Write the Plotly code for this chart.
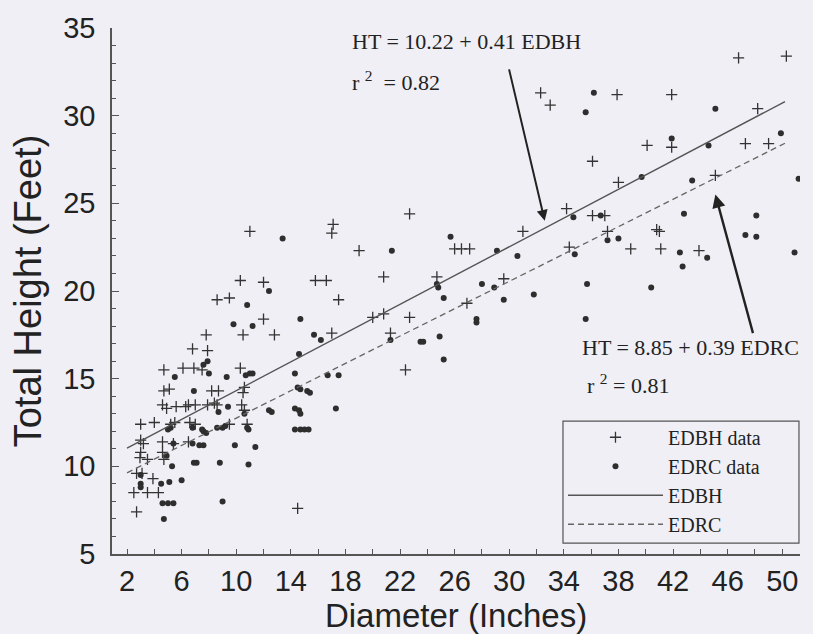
import plotly.graph_objects as go

# EDBH data (+)
edbh_x = [46.8, 50.3, 32.3, 33.0, 37.9, 41.9, 48.2, 47.3, 49.0, 40.1, 41.9, 36.1, 38.0, 45.1, 34.2, 36.1, 37.0,
          37.2, 40.8, 41.0, 34.4, 38.9, 41.1, 43.9,
          22.7, 17.1, 19.0, 26.0, 26.5, 27.1, 31.0, 20.8, 24.7, 29.6, 17.5, 26.9, 20.8, 20.0, 22.7, 17.0, 21.3, 22.4,
          11.0, 17.0, 10.3, 12.0, 15.8, 16.6, 8.6, 9.5, 12.0, 10.5, 12.8, 7.8, 6.8, 7.9, 4.7, 6.1, 6.9, 7.5, 10.3,
          4.7, 5.1, 8.2, 8.7, 10.6, 10.5,
          4.6, 4.9, 5.6, 6.3, 6.5, 7.0, 7.9, 8.4, 8.6, 10.4, 10.6,
          3.0, 4.0, 5.2, 5.5, 6.6, 7.0, 9.5, 10.8,
          3.0, 3.2, 4.6, 5.4, 6.5,
          3.0, 2.95, 3.5, 4.6, 4.7,
          2.7, 3.1, 3.9, 2.5, 3.5, 4.3, 2.7, 14.5]
edbh_y = [33.3, 33.4, 31.3, 30.6, 31.2, 31.2, 30.4, 28.4, 28.4, 28.3, 28.2, 27.4, 26.2, 26.6, 24.7, 24.3, 24.3,
          23.4, 23.5, 23.4, 22.5, 22.4, 22.4, 22.3,
          24.4, 23.8, 22.3, 22.4, 22.4, 22.4, 23.4, 20.8, 20.8, 20.7, 19.5, 19.3, 18.7, 18.5, 18.5, 17.6, 17.6, 15.5,
          23.4, 23.3, 20.6, 20.5, 20.6, 20.6, 19.5, 19.6, 18.4, 17.5, 17.5, 17.5, 16.7, 16.6, 15.5, 15.6, 15.6, 15.5, 15.6,
          14.3, 14.4, 14.3, 14.3, 14.5, 14.2,
          13.5, 13.3, 13.4, 13.4, 13.5, 13.5, 13.5, 13.6, 13.5, 13.5, 13.2,
          12.4, 12.5, 12.4, 12.5, 12.5, 12.4, 12.4, 12.4,
          11.5, 11.3, 11.4, 11.3, 11.4,
          10.8, 10.5, 10.4, 10.8, 10.4,
          9.6, 9.6, 9.3, 8.5, 8.5, 8.5, 7.4, 7.6]

# EDRC data (dots)
edrc_x = [36.2, 35.6, 45.1, 49.9, 44.6, 41.9, 39.7, 43.4, 51.2, 34.7, 36.7, 42.8, 48.1, 37.2, 38.0, 34.8, 42.5,
          42.7, 44.5, 47.3, 48.1, 50.9, 35.7, 40.4, 35.6,
          25.7, 21.4, 29.1, 30.6, 24.7, 24.8, 28.0, 28.9, 31.8, 25.2, 29.6, 27.6, 27.6, 21.3, 23.5, 23.7, 24.9, 25.2,
          17.5, 17.3,
          13.4, 12.4, 10.8, 9.8, 11.2, 14.7, 15.7, 16.2, 14.6, 7.9, 7.6, 5.5, 8.0, 9.3, 10.7, 11.0, 11.2, 14.3, 16.7,
          6.9, 14.5, 14.7, 15.2, 15.4,
          8.7, 9.4, 10.6, 12.4, 12.6, 14.3, 14.6, 14.7,
          5.2, 5.0, 6.8, 7.5, 7.6, 7.8, 8.6, 9.0, 9.2, 10.8, 10.9, 14.3, 14.7, 15.0, 15.3,
          5.4, 6.8, 7.3, 7.6, 9.9, 11.4,
          4.9, 5.3, 6.9, 7.1, 8.8, 10.9,
          3.0, 3.0, 3.0, 4.5, 5.1, 6.0,
          4.6, 5.0, 5.4, 9.0, 4.7]
edrc_y = [31.3, 30.2, 30.4, 29.0, 28.3, 28.7, 26.5, 26.3, 26.4, 24.2, 24.3, 24.4, 24.3, 22.9, 23.0, 22.1, 22.2,
          21.4, 21.9, 23.2, 23.1, 22.2, 20.4, 20.2, 18.4,
          23.1, 22.3, 22.3, 22.0, 20.4, 20.2, 20.4, 20.2, 19.8, 19.6, 19.5, 18.4, 18.2, 17.2, 17.1, 17.1, 17.4, 16.1,
          15.2, 13.3,
          23.0, 20.0, 19.2, 18.1, 18.0, 18.4, 17.5, 17.2, 16.4, 16.0, 15.8, 15.1, 15.3, 15.1, 15.2, 15.3, 15.3, 15.3, 15.2,
          14.3, 14.5, 14.4, 14.3, 14.2,
          13.1, 13.4, 13.0, 13.2, 13.1, 13.3, 13.2, 13.0,
          12.2, 12.1, 12.2, 12.1, 12.0, 11.9, 12.2, 12.2, 12.3, 12.2, 12.1, 12.1, 12.1, 12.1, 12.1,
          11.3, 11.3, 11.2, 11.2, 11.2, 11.1,
          10.6, 10.0, 10.2, 10.2, 10.2, 10.1,
          9.5, 9.0, 8.8, 9.0, 9.1, 9.2,
          7.9, 7.9, 7.9, 8.0, 7.0]

# regression fits
edbh_a, edbh_b = 10.22, 0.41
edrc_a, edrc_b = 8.85, 0.39
fit_x = [2.0, 50.2]

x_ticks = list(range(2, 51, 4))
y_ticks = [5, 10, 15, 20, 25, 30, 35]

bg = "#efeff5"
ink = "#222222"
sans = "Liberation Sans"
serif = "Liberation Serif"

fig = go.Figure()
fig.add_trace(go.Scatter(x=edbh_x, y=edbh_y, mode="markers", name="EDBH data",
                         marker=dict(symbol="cross-thin", size=8, line=dict(width=1.3, color="#333333"),
                                     color="#333333")))
fig.add_trace(go.Scatter(x=edrc_x, y=edrc_y, mode="markers", name="EDRC data",
                         marker=dict(symbol="circle", size=6, color="#2e2e2e")))
fig.add_trace(go.Scatter(x=fit_x, y=[edbh_a + edbh_b * v for v in fit_x], mode="lines", name="EDBH",
                         line=dict(color="#555555", width=1.4)))
fig.add_trace(go.Scatter(x=fit_x, y=[edrc_a + edrc_b * v for v in fit_x], mode="lines", name="EDRC",
                         line=dict(color="#666666", width=1.3, dash="6px,4px")))

tf = dict(family=serif, size=22, color=ink)
ann = [
    dict(x=0.346, y=0.974, xref="paper", yref="paper", text="HT = 10.22 + 0.41 EDBH", showarrow=False,
         xanchor="left", yanchor="middle", font=tf),
    dict(x=0.346, y=0.900, xref="paper", yref="paper", text="r <sup>2</sup>  = 0.82", showarrow=False,
         xanchor="left", yanchor="middle", font=tf),
    dict(x=0.680, y=0.392, xref="paper", yref="paper", text="HT = 8.85 + 0.39 EDRC", showarrow=False,
         xanchor="left", yanchor="middle", font=tf),
    dict(x=0.6875, y=0.324, xref="paper", yref="paper", text="r <sup>2</sup> = 0.81", showarrow=False,
         xanchor="left", yanchor="middle", font=tf),
    dict(x=32.6, y=24.0, xref="x", yref="y", text="", showarrow=True, axref="pixel", ayref="pixel",
         ax=-36, ay=-153, arrowhead=2, arrowsize=1.1, arrowwidth=2, arrowcolor=ink),
    dict(x=45.1, y=25.5, xref="x", yref="y", text="", showarrow=True, axref="pixel", ayref="pixel",
         ax=38, ay=140, arrowhead=2, arrowsize=1.1, arrowwidth=2.4, arrowcolor=ink),
]

# legend frame (decoration, paper coordinates)
legend_box = dict(type="rect", xref="paper", yref="paper", x0=0.6555, x1=0.9985, y0=0.0208, y1=0.2528,
                  line=dict(color="#555555", width=1.2), fillcolor="rgba(0,0,0,0)", layer="above")

fig.update_layout(
    width=813, height=634,
    margin=dict(l=112, r=13, t=24, b=80),
    paper_bgcolor=bg, plot_bgcolor=bg,
    font=dict(family=sans, color=ink),
    annotations=ann,
    shapes=[legend_box],
    legend=dict(x=0.6555, xanchor="left", y=0.259, yanchor="top",
                bgcolor="rgba(0,0,0,0)", borderwidth=0,
                font=dict(family=serif, size=20, color=ink),
                itemwidth=95, tracegroupgap=0),
)
fig.update_xaxes(range=[0.9, 51.3], tickvals=x_ticks, ticks="inside", ticklen=5, tickcolor="#555555",
                 showline=True, linecolor="#555555", linewidth=1.5, showgrid=False, zeroline=False,
                 minor=dict(dtick=2, tick0=0, ticks="inside", ticklen=5, tickcolor="#555555"),
                 tickfont=dict(size=29, family=sans, color=ink),
                 title=dict(text="Diameter (Inches)", font=dict(size=33, family=sans, color=ink),
                            standoff=0))
fig.update_yaxes(range=[5, 35], tickvals=y_ticks, ticks="inside", ticklen=7, tickcolor="#555555",
                 showline=True, linecolor="#555555", linewidth=1.5, showgrid=False, zeroline=False,
                 minor=dict(dtick=1, ticks="inside", ticklen=4, tickcolor="#555555"),
                 ticklabelstandoff=9,
                 tickfont=dict(size=29, family=sans, color=ink),
                 title=dict(text="Total Height (Feet)", font=dict(size=38, family=sans, color=ink),
                            standoff=10))

fig.write_html("out.html", config={"displayModeBar": False},
               post_script="document.body.style.margin='0';document.body.style.overflow='hidden';")
